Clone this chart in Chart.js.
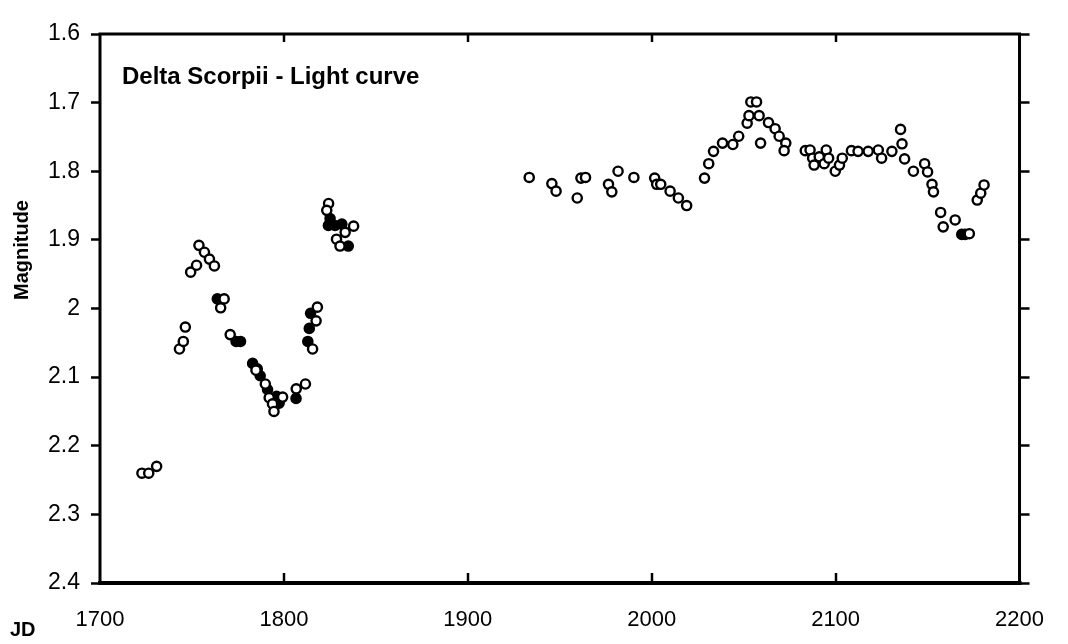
<!DOCTYPE html>
<html>
<head>
<meta charset="utf-8">
<script src="https://cdn.jsdelivr.net/npm/chart.js@4"></script>
<style>
html,body{margin:0;padding:0;background:#fff;}
#wrap{width:1068px;height:644px;position:relative;}
</style>
</head>
<body>
<div id="wrap"><canvas id="c" width="1068" height="644"></canvas></div>
<script>
// ---- data ----
const openJD = [1722.8,1726.5,1730.8,1743.2,1745.3,1746.4,1749.3,1752.5,1753.8,1756.8,1759.5,1762.2,1767.5,1765.6,1770.8,1784.8,1789.9,1792.0,1793.8,1794.6,1799.3,1806.7,1811.7,1818.2,1817.5,1815.6,1824.3,1823.3,1837.9,1833.3,1828.6,1830.5,
  1933.4,1945.7,1948.0,1959.5,1961.5,1964.0,1976.5,1978.3,1981.7,1990.3,2001.6,2002.7,2004.9,2010.0,2014.5,2019.0,2028.7,2031.0,2033.6,2038.5,2044.1,2047.3,2051.9,2052.9,2053.9,2057.0,2058.4,2059.2,2063.5,2067.1,2069.3,2072.9,2072.0,
  2083.5,2086.1,2087.5,2088.3,2091.1,2093.8,2094.9,2096.2,2099.8,2102.1,2103.6,2108.6,2112.2,2117.7,2123.2,2125.0,2130.6,2135.3,2136.1,2137.5,2142.3,2148.4,2150.0,2152.4,2153.2,2157.1,2158.5,2165.0,2172.7,2177.0,2178.9,2180.7];
const openMag = [2.240,2.240,2.230,2.059,2.048,2.027,1.947,1.937,1.908,1.918,1.928,1.938,1.986,1.999,2.038,2.090,2.110,2.130,2.139,2.150,2.129,2.117,2.110,1.998,2.018,2.059,1.847,1.857,1.880,1.889,1.899,1.909,
  1.809,1.818,1.829,1.839,1.810,1.809,1.819,1.830,1.800,1.809,1.810,1.819,1.819,1.829,1.839,1.850,1.810,1.789,1.771,1.759,1.761,1.749,1.730,1.719,1.699,1.699,1.719,1.759,1.729,1.738,1.749,1.759,1.770,
  1.770,1.769,1.781,1.791,1.779,1.789,1.769,1.781,1.800,1.791,1.781,1.770,1.771,1.771,1.769,1.781,1.771,1.739,1.760,1.782,1.800,1.789,1.801,1.819,1.830,1.860,1.881,1.871,1.891,1.842,1.832,1.820];
const filledJD = [1763.8,1774.0,1776.4,1783.0,1785.5,1787.1,1791.1,1796.0,1797.4,1806.6,1814.5,1813.8,1813.0,1825.1,1824.2,1827.8,1831.5,1835.0,2168.6,2170.4];
const filledMag = [1.986,2.048,2.048,2.080,2.088,2.098,2.118,2.128,2.138,2.131,2.007,2.029,2.048,1.869,1.879,1.879,1.877,1.909,1.892,1.892];
const xTicks = [1700,1800,1900,2000,2100,2200];
const xTickLabels = ['1700','1800','1900','2000','2100','2200'];
const yTicks = [1.6,1.7,1.8,1.9,2.0,2.1,2.2,2.3,2.4];
const yTickLabels = ['1.6','1.7','1.8','1.9','2','2.1','2.2','2.3','2.4'];
const chartTitle = 'Delta Scorpii - Light curve';
const yTitle = 'Magnitude';
const xTitle = 'JD';

const toPts = (xs, ys) => xs.map((x, i) => ({x: x, y: ys[i]}));
const FONT = '"Liberation Sans", Arial, sans-serif';

const framePlugin = {
  id: 'frame',
  afterDraw(chart) {
    const ctx = chart.ctx, a = chart.chartArea;
    const xs = chart.scales.x;
    ctx.save();
    ctx.strokeStyle = '#000';
    ctx.lineCap = 'square';
    ctx.lineWidth = 3;
    ctx.beginPath();
    ctx.moveTo(a.left, a.bottom); ctx.lineTo(a.left, a.top); ctx.lineTo(a.right, a.top); ctx.lineTo(a.right, a.bottom);
    ctx.stroke();
    ctx.lineWidth = 4;
    ctx.beginPath(); ctx.moveTo(a.left, a.bottom); ctx.lineTo(a.right, a.bottom); ctx.stroke();
    ctx.lineWidth = 2.5;
    ctx.lineCap = 'butt';
    xTicks.slice(1, -1).forEach(v => {
      const px = Math.round(xs.getPixelForValue(v));
      ctx.beginPath(); ctx.moveTo(px, a.bottom); ctx.lineTo(px, a.bottom - 10); ctx.stroke();
      ctx.beginPath(); ctx.moveTo(px, a.top); ctx.lineTo(px, a.top + 8); ctx.stroke();
    });
    ctx.fillStyle = '#000';
    ctx.textBaseline = 'middle';
    ctx.textAlign = 'left';
    ctx.font = 'bold 24px ' + FONT;
    ctx.fillText(chartTitle, a.left + 22, 77);
    ctx.font = 'bold 20px ' + FONT;
    ctx.fillText(xTitle, 10, 630);
    ctx.translate(22, 250);
    ctx.rotate(-Math.PI / 2);
    ctx.textAlign = 'center';
    ctx.font = 'bold 20px ' + FONT;
    ctx.fillText(yTitle, 0, 0);
    ctx.restore();
  }
};

new Chart(document.getElementById('c'), {
  type: 'scatter',
  data: {
    datasets: [
      {
        label: 'open',
        data: toPts(openJD, openMag),
        pointStyle: 'circle',
        pointRadius: 4.6,
        pointHoverRadius: 4.6,
        borderWidth: 2.4,
        borderColor: '#000',
        backgroundColor: '#fff'
      },
      {
        label: 'filled',
        data: toPts(filledJD, filledMag),
        pointStyle: 'circle',
        pointRadius: 4.6,
        pointHoverRadius: 4.6,
        borderWidth: 2.4,
        borderColor: '#000',
        backgroundColor: '#000'
      }
    ]
  },
  options: {
    responsive: false,
    animation: false,
    devicePixelRatio: 1,
    layout: { padding: { top: 34, left: 0, right: 0, bottom: 0 } },
    plugins: { legend: { display: false }, tooltip: { enabled: false }, title: { display: false } },
    scales: {
      x: {
        type: 'linear', position: 'bottom', min: 1700, max: 2200,
        afterBuildTicks: s => { s.ticks = xTicks.map(v => ({value: v})); },
        afterFit: s => { s.height = 61; },
        ticks: {
          color: '#000', padding: 24, maxRotation: 0, autoSkip: false,
          font: { family: FONT, size: 22 },
          callback: (v, i) => xTickLabels[i]
        },
        grid: { drawOnChartArea: false, drawTicks: false },
        border: { display: false }
      },
      y: {
        type: 'linear', position: 'left', reverse: true, min: 1.6, max: 2.4,
        afterBuildTicks: s => { s.ticks = yTicks.map(v => ({value: v})); },
        afterFit: s => { s.width = 100; },
        ticks: {
          color: '#000', padding: 11, autoSkip: false,
          font: { family: FONT, size: 23 },
          callback: (v, i) => yTickLabels[i]
        },
        grid: { drawOnChartArea: false, drawTicks: true, tickLength: 9, tickWidth: 2.5, tickColor: '#000', color: '#000' },
        border: { display: false }
      },
      y2: {
        type: 'linear', position: 'right', reverse: true, min: 1.6, max: 2.4,
        afterBuildTicks: s => { s.ticks = yTicks.map(v => ({value: v})); },
        afterFit: s => { s.width = 48; },
        ticks: { display: false },
        grid: { drawOnChartArea: false, drawTicks: true, tickLength: 10, tickWidth: 2.5, tickColor: '#000', color: '#000' },
        border: { display: false }
      }
    }
  },
  plugins: [framePlugin]
});
</script>
</body>
</html>
